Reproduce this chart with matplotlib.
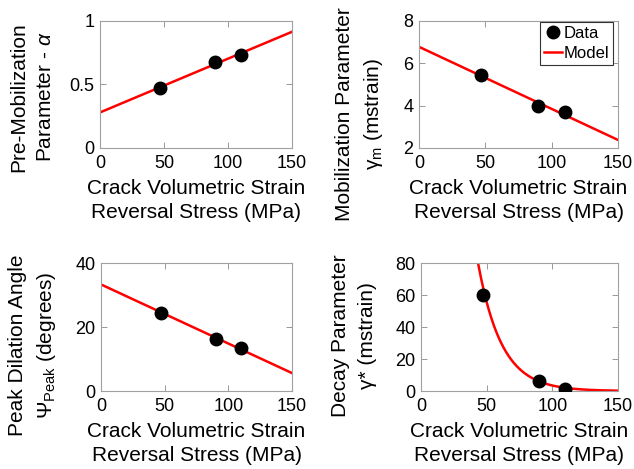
import numpy as np
import matplotlib
matplotlib.use("Agg")
import matplotlib.pyplot as plt

plt.rcParams['font.family'] = ['Liberation Sans', 'DejaVu Sans']
plt.rcParams['mathtext.fontset'] = 'custom'
plt.rcParams['mathtext.rm'] = 'Liberation Sans'
plt.rcParams['mathtext.it'] = 'Liberation Sans:italic'

# Reversal stress of each specimen (MPa)
stress = [47, 90, 110]

alpha_data = [0.47, 0.68, 0.73]
gamma_m_data = [5.46, 3.97, 3.69]
psi_peak_data = [24.5, 16.1, 13.3]
gamma_star_data = [59.9, 6.2, 1.5]

# Linear model fits: value at 0 MPa and at 150 MPa
alpha_model = [0.28, 0.915]
gamma_m_model = [6.78, 2.38]
psi_peak_model = [33.3, 5.6]
# Exponential model for the decay parameter: A * exp(-k * stress)
gamma_star_A = 900.0
gamma_star_k = 0.0557

x_model_ends = [0, 150]
xticks = [0, 50, 100, 150]

W, H = 634, 469
fig = plt.figure(figsize=(W / 100, H / 100), dpi=100)
boxes = [(100, 21, 292, 148), (419, 21, 618, 148),
         (101, 263, 292, 391), (421, 263, 618, 391)]
axes = [fig.add_axes([l / W, 1 - b / H, (r - l) / W, (b - t) / H]) for l, t, r, b in boxes]

fs = 15
tick_fs = 13
xlabel = "Crack Volumetric Strain\nReversal Stress (MPa)"


def px_text(x, y, s, spacing=1.35, **kw):
    fig.text(x / W, 1 - y / H, s, fontsize=fs, linespacing=spacing, **kw)


def style(ax, box, ylim, yticks, ylabel, ylab_xy):
    ax.set_xlim(0, 150)
    ax.set_ylim(*ylim)
    ax.set_xticks(xticks)
    ax.set_yticks(yticks)
    ax.tick_params(direction='in', top=True, right=True, labelsize=tick_fs,
                   length=4, width=0.6, color='#888888')
    ax.tick_params(axis='x', pad=5)
    ax.tick_params(axis='y', pad=4)
    for s in ax.spines.values():
        s.set_color('#a0a0a0')
        s.set_linewidth(0.8)
    l, t, r, b = box
    px_text((l + r) / 2, b + 31, xlabel, ha='center', va='top')
    px_text(ylab_xy[0], ylab_xy[1], ylabel, spacing=1.5, ha='center', va='center',
            rotation=90, multialignment='center')


mk = dict(marker='o', ls='none', color='black', markersize=9, zorder=3)
ln = dict(color='red', lw=1.8, zorder=2)

ax = axes[0]
ax.plot(x_model_ends, alpha_model, **ln)
ax.plot(stress, alpha_data, **mk)
style(ax, boxes[0], (0, 1), [0, 0.5, 1],
      "Pre-Mobilization\nParameter - $\\it{\\alpha}$", (32, 97))
ax.set_yticklabels(['0', '0.5', '1'])

ax = axes[1]
ax.plot(stress, gamma_m_data, label='Data', **mk)
ax.plot(x_model_ends, gamma_m_model, label='Model', **ln)
style(ax, boxes[1], (2, 8), [2, 4, 6, 8],
      "Mobilization Parameter\nγ$_{\\rm m}$ (mstrain)", (360, 114))
leg = ax.legend(loc='upper right', bbox_to_anchor=(1 - 5 / 199, 1 - 1 / 127),
                borderaxespad=0, fontsize=12, frameon=True, fancybox=False,
                handlelength=1.05, handletextpad=0.1, borderpad=0.25,
                labelspacing=0.3, framealpha=1)
leg.get_frame().set_edgecolor('#333333')
leg.get_frame().set_linewidth(0.8)

ax = axes[2]
ax.plot(x_model_ends, psi_peak_model, **ln)
ax.plot(stress, psi_peak_data, **mk)
style(ax, boxes[2], (0, 40), [0, 20, 40],
      "Peak Dilation Angle\nΨ$_{\\rm Peak}$ (degrees)", (33, 345))

ax = axes[3]
xs = np.linspace(0, 150, 400)
ax.plot(xs, gamma_star_A * np.exp(-gamma_star_k * xs), **ln)
ax.plot(stress, gamma_star_data, **mk)
style(ax, boxes[3], (0, 80), [0, 20, 40, 60, 80],
      "Decay Parameter\nγ* (mstrain)", (354, 336))

fig.savefig("out.png", dpi=100)
